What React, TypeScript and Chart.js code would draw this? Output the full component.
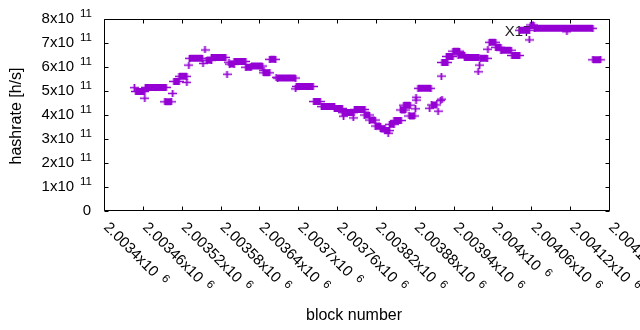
import { useEffect, useRef } from "react";
import { Chart, registerables } from "chart.js";

Chart.register(...registerables);

const PURPLE = "#9400d3";
const FONT = '"Liberation Sans", Arial, sans-serif';

// Axis ticks
const xTickValues = [
  2003400, 2003460, 2003520, 2003580, 2003640, 2003700, 2003760,
  2003820, 2003880, 2003940, 2004000, 2004060, 2004120, 2004180,
];
const xTickLabels = [
  "2.0034", "2.00346", "2.00352", "2.00358", "2.00364", "2.0037", "2.00376",
  "2.00382", "2.00388", "2.00394", "2.004", "2.00406", "2.00412", "2.00418",
];
const xTickExponent = "6";
const yTickValues = [0, 1e11, 2e11, 3e11, 4e11, 5e11, 6e11, 7e11, 8e11];
const yTickLabels = ["0", "1", "2", "3", "4", "5", "6", "7", "8"];
const yTickExponent = "11";

// Runs of constant hashrate (block start, block end, hashrate h/s)
const runStart = [
  2003449, 2003464, 2003494, 2003508, 2003516, 2003532, 2003558, 2003566,
  2003594, 2003601, 2003619, 2003627, 2003646, 2003656, 2003668, 2003697,
  2003724, 2003736, 2003756, 2003768, 2003787, 2003802, 2003810, 2003819,
  2003827, 2003834, 2003841, 2003848, 2003858, 2003863, 2003871, 2003885,
  2003906, 2003922, 2003929, 2003939, 2003947, 2003957, 2003981, 2003995,
  2004005, 2004013, 2004030, 2004042, 2004059, 2004065, 2004155,
];
const runEnd = [
  2003463, 2003496, 2003504, 2003516, 2003528, 2003552, 2003566, 2003588,
  2003601, 2003619, 2003627, 2003645, 2003656, 2003665, 2003696, 2003723,
  2003734, 2003756, 2003768, 2003786, 2003803, 2003810, 2003819, 2003827,
  2003834, 2003841, 2003848, 2003859, 2003866, 2003873, 2003880, 2003905,
  2003914, 2003931, 2003939, 2003949, 2003957, 2003979, 2003992, 2004005,
  2004013, 2004029, 2004042, 2004057, 2004064, 2004155, 2004167,
];
const runValue = [
  4.98e11, 5.15e11, 4.55e11, 5.40e11, 5.61e11, 6.36e11, 6.28e11, 6.40e11,
  6.12e11, 6.23e11, 5.99e11, 6.04e11, 5.76e11, 6.32e11, 5.54e11, 5.19e11,
  4.56e11, 4.35e11, 4.27e11, 4.10e11, 4.23e11, 4.00e11, 3.79e11, 3.54e11,
  3.42e11, 3.35e11, 3.61e11, 3.77e11, 4.21e11, 4.41e11, 3.96e11, 5.11e11,
  4.42e11, 6.19e11, 6.44e11, 6.66e11, 6.50e11, 6.40e11, 6.36e11, 7.03e11,
  6.82e11, 6.70e11, 6.48e11, 7.53e11, 7.75e11, 7.61e11, 6.30e11,
];

// Isolated samples
const pointBlock = [
  2003447, 2003463, 2003506, 2003528, 2003531, 2003553, 2003556, 2003590,
  2003593, 2003647, 2003666, 2003696, 2003770, 2003785, 2003839, 2003882,
  2003882, 2003881, 2003903, 2003916, 2003920, 2003922, 2003921, 2003978,
  2003980, 2003993, 2004057, 2004115,
];
const pointValue = [
  5.14e11, 4.70e11, 4.90e11, 5.36e11, 6.08e11, 6.15e11, 6.71e11, 5.70e11,
  6.20e11, 5.86e11, 5.57e11, 5.09e11, 3.95e11, 3.88e11, 3.24e11, 4.62e11,
  4.74e11, 4.26e11, 4.28e11, 4.16e11, 4.60e11, 4.66e11, 5.62e11, 5.80e11,
  6.08e11, 6.74e11, 7.13e11, 7.47e11,
];

const annotationText = "X17";
const annotationBlock = 2004019;
const annotationValue = 7.48e11;

const xTitle = "block number";
const yTitle = "hashrate [h/s]";

function makePlus(): HTMLCanvasElement {
  const c = document.createElement("canvas");
  c.width = 9;
  c.height = 7;
  const g = c.getContext("2d")!;
  g.fillStyle = PURPLE;
  g.fillRect(0, 2.75, 9, 1.5);
  g.fillRect(3.6, 0, 1.8, 7);
  return c;
}

const frame = {
  id: "gnuplotFrame",
  beforeDatasetsDraw(chart: any) {
    const ctx = chart.ctx;
    const xs = chart.scales.x;
    const ys = chart.scales.y;
    ctx.save();
    ctx.fillStyle = "#222";
    ctx.font = `15px ${FONT}`;
    ctx.textAlign = "left";
    ctx.textBaseline = "middle";
    ctx.fillText(annotationText, xs.getPixelForValue(annotationBlock), ys.getPixelForValue(annotationValue));
    ctx.restore();
  },
  afterDatasetsDraw(chart: any) {
    const ctx = chart.ctx;
    const xs = chart.scales.x;
    const ys = chart.scales.y;
    const { left, right, top, bottom } = chart.chartArea;
    const L = Math.round(left) + 0.5;
    const R = Math.round(right) + 0.5;
    const T = Math.round(top) + 0.5;
    const B = Math.round(bottom) - 0.5;
    const TICK = 4;
    ctx.save();
    ctx.strokeStyle = "#000";
    ctx.lineWidth = 1;
    ctx.beginPath();
    ctx.moveTo(L, T);
    ctx.lineTo(R, T);
    ctx.lineTo(R, B);
    ctx.lineTo(L, B);
    ctx.closePath();
    xTickValues.forEach((v) => {
      const x = Math.round(xs.getPixelForValue(v)) + 0.5;
      ctx.moveTo(x, B);
      ctx.lineTo(x, B - TICK);
      ctx.moveTo(x, T);
      ctx.lineTo(x, T + TICK);
    });
    yTickValues.forEach((v) => {
      const y = Math.round(ys.getPixelForValue(v)) + 0.5;
      ctx.moveTo(L, y);
      ctx.lineTo(L + TICK, y);
      ctx.moveTo(R, y);
      ctx.lineTo(R - TICK, y);
    });
    ctx.stroke();

    ctx.fillStyle = "#000";
    const base = `15px ${FONT}`;
    const sup = `11.5px ${FONT}`;
    const yRight = 92;
    yTickValues.forEach((v, i) => {
      const y = ys.getPixelForValue(v);
      ctx.textBaseline = "middle";
      if (v === 0) {
        ctx.font = base;
        ctx.textAlign = "right";
        ctx.fillText(yTickLabels[i], yRight - 1, y);
        return;
      }
      ctx.font = sup;
      const sw = ctx.measureText(yTickExponent).width;
      ctx.textAlign = "left";
      ctx.fillText(yTickExponent, yRight - sw, y - 5);
      ctx.font = base;
      ctx.textAlign = "right";
      ctx.fillText(yTickLabels[i] + "x10", yRight - sw - 6, y);
    });
    xTickValues.forEach((v, i) => {
      const x = xs.getPixelForValue(v);
      ctx.save();
      ctx.translate(x + 2, bottom + 14);
      ctx.rotate(Math.PI / 4);
      ctx.font = base;
      ctx.textAlign = "left";
      ctx.textBaseline = "middle";
      const txt = xTickLabels[i] + "x10";
      ctx.fillText(txt, 0, 0);
      const w = ctx.measureText(txt).width;
      ctx.font = sup;
      ctx.fillText(xTickExponent, w + 7, -4);
      ctx.restore();
    });
    const titleFont = `16px ${FONT}`;
    ctx.font = titleFont;
    ctx.textAlign = "center";
    ctx.textBaseline = "middle";
    ctx.fillText(xTitle, 354, 316);
    ctx.save();
    ctx.translate(17, 116);
    ctx.rotate(-Math.PI / 2);
    ctx.fillText(yTitle, 0, 0);
    ctx.restore();
    ctx.restore();
  },
};

export default function App() {
  const ref = useRef<HTMLCanvasElement | null>(null);
  useEffect(() => {
    const prevMargin = document.body.style.margin;
    document.body.style.margin = "0";
    const canvas = ref.current!;
    const runData: any[] = [];
    const endPoints: any[] = [];
    runStart.forEach((s, i) => {
      runData.push({ x: s, y: runValue[i] });
      runData.push({ x: runEnd[i], y: runValue[i] });
      runData.push({ x: runEnd[i], y: null });
      endPoints.push({ x: s, y: runValue[i] });
      endPoints.push({ x: runEnd[i], y: runValue[i] });
    });
    const singles = pointBlock.map((b, i) => ({ x: b, y: pointValue[i] }));
    const plus = makePlus();
    const chart = new Chart(canvas, {
      type: "scatter",
      data: {
        datasets: [
          {
            type: "line",
            data: runData,
            borderColor: PURPLE,
            backgroundColor: PURPLE,
            borderWidth: 7,
            borderCapStyle: "butt",
            pointRadius: 0,
            spanGaps: false,
            fill: false,
            tension: 0,
          } as any,
          {
            data: [...endPoints, ...singles],
            pointStyle: plus as any,
            pointRadius: 4,
            borderColor: PURPLE,
            backgroundColor: PURPLE,
          },
        ],
      },
      options: {
        animation: false,
        responsive: false,
        events: [],
        layout: { padding: { left: 104, right: 31, top: 19, bottom: 119 } },
        plugins: { legend: { display: false }, tooltip: { enabled: false } },
        scales: {
          x: { type: "linear", min: 2003400, max: 2004180, display: false },
          y: { type: "linear", min: 0, max: 8e11, display: false },
        },
      },
      plugins: [frame],
    });
    return () => {
      chart.destroy();
      document.body.style.margin = prevMargin;
    };
  }, []);
  return (
    <div style={{ width: 640, height: 330 }}>
      <canvas ref={ref} width={640} height={330} style={{ display: "block", width: 640, height: 330 }} />
    </div>
  );
}
